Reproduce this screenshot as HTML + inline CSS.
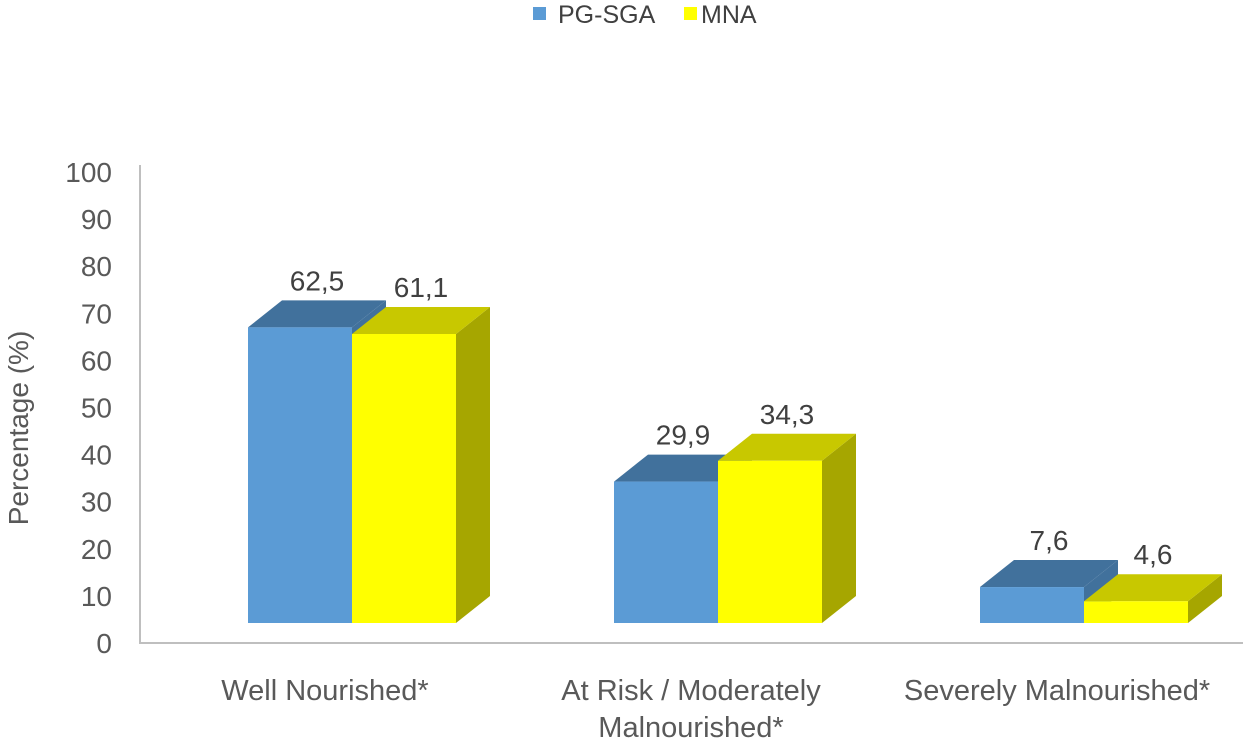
<!DOCTYPE html>
<html><head><meta charset="utf-8"><style>
html,body{margin:0;padding:0;background:#fff;}
svg text{font-family:"Liberation Sans",sans-serif;}
</style></head><body>
<svg id="c" width="1243" height="745" xmlns="http://www.w3.org/2000/svg">
<g>
<rect x="533" y="7" width="13" height="13" fill="#5b9bd5"/>
<text x="558" y="23" font-size="25" fill="#404040">PG-SGA</text>
<rect x="684" y="7" width="13" height="13" fill="#ffff00"/>
<text x="701" y="23" font-size="25" fill="#404040">MNA</text>
</g>
<polyline points="140,165 140,643 1243,643" fill="none" stroke="#bfbfbf" stroke-width="2"/>
<text transform="translate(28,428) rotate(-90)" text-anchor="middle" font-size="28" fill="#595959">Percentage (%)</text>
<g id="ticks"></g><g id="bars"></g>
</svg>
<script>
const categories=[["Well Nourished*"],["At Risk / Moderately","Malnourished*"],["Severely Malnourished*"]];
const pgsga=[62.5,29.9,7.6];
const mna=[61.1,34.3,4.6];
const pgsgaLabels=["62,5","29,9","7,6"];
const mnaLabels=["61,1","34,3","4,6"];
const ticks=[0,10,20,30,40,50,60,70,80,90,100];
const NS="http://www.w3.org/2000/svg";
function y(v){return 623-v*4.73;}
function tickY(v){return 643-v*4.71;}
function mk(tag,attrs,parent){const e=document.createElementNS(NS,tag);for(const k in attrs)e.setAttribute(k,attrs[k]);parent.appendChild(e);return e;}
const tg=document.getElementById('ticks');
ticks.forEach(t=>{const e=mk('text',{x:112,y:tickY(t)+10,'text-anchor':'end','font-size':28,fill:'#595959'},tg);e.textContent=t;

});
const bg=document.getElementById('bars');
const starts=[248,614,980],W=104,DX=34,DY=27;
function bar(x,v,front,top,side,lab,name){
 const yt=y(v),yb=623;
 const g=mk('g',{},bg);
 
 
 mk('polygon',{points:`${x+W},${yt} ${x+W+DX},${yt-DY} ${x+W+DX},${yb-DY} ${x+W},${yb}`,fill:side},g);
 mk('polygon',{points:`${x},${yt} ${x+DX},${yt-DY} ${x+W+DX},${yt-DY} ${x+W},${yt}`,fill:top},g);
 mk('rect',{x:x,y:yt,width:W,height:yb-yt,fill:front},g);
 const t=mk('text',{x:x+W/2+DX/2,y:yt-DY-10,'text-anchor':'middle','font-size':28,fill:'#404040'},g);t.textContent=lab;
 
 
}
categories.forEach((c,i)=>{
 const x=starts[i];
 bar(x,pgsga[i],'#5b9bd5','#41719c','#41719c',pgsgaLabels[i],'bar-pg-sga');
 bar(x+W,mna[i],'#ffff00','#c8c800','#a6a600',mnaLabels[i],'bar-mna');
 c.forEach((line,j)=>{const t=mk('text',{x:x+77,y:700+j*37,'text-anchor':'middle','font-size':29,fill:'#595959'},bg);t.textContent=line;
 
 });
});
</script>
</body></html>
